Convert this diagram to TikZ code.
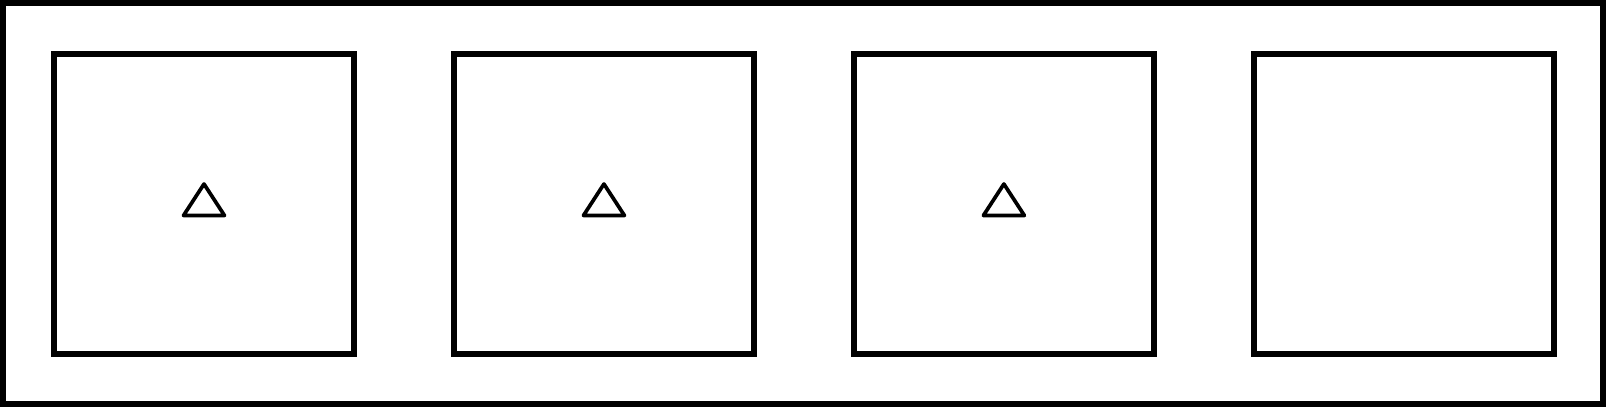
\documentclass[tikz,border=0pt]{standalone}
\usetikzlibrary{positioning}

\tikzset{
    panel/.style={draw, line width=3.4pt, minimum width=6cm, minimum height=6cm, inner sep=0pt, outer sep=0pt},
    mark triangle/.style={line width=2.1pt, line join=round, line cap=round}
}

\begin{document}
\begin{tikzpicture}[x=0.02cm, y=-0.02cm]

    \def\W{1606}
    \def\H{407}

    \useasboundingbox (0,0) rectangle (\W,\H);

    % frame
    \draw[line width=3.4pt] (3,3) rectangle (\W-3,\H-3);

    % panels
    \node[panel] (panel1) at (204,204) {};
    \node[panel, right=100*0.02cm of panel1] (panel2) {};
    \node[panel, right=100*0.02cm of panel2] (panel3) {};
    \node[panel, right=100*0.02cm of panel3] (panel4) {};

    % triangles
    \foreach \p in {panel1, panel2, panel3}{
        \draw[mark triangle]
            ([yshift=20*0.02cm]\p.center)
            -- ([xshift=-20.5*0.02cm, yshift=-11.5*0.02cm]\p.center)
            -- ([xshift=20.5*0.02cm, yshift=-11.5*0.02cm]\p.center)
            -- cycle;
    }

\end{tikzpicture}
\end{document}
